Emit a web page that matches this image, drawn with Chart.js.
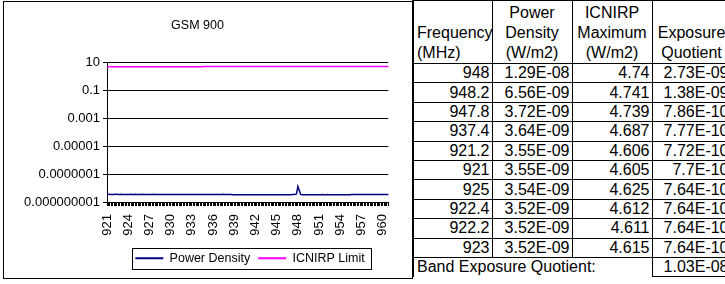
<!DOCTYPE html>
<html>
<head>
<meta charset="utf-8">
<title>GSM 900</title>
<script src="https://cdn.jsdelivr.net/npm/chart.js@4.4.1/dist/chart.umd.min.js"></script>
<style>
  body { margin: 0; background: #fff; }
  #page { position: relative; width: 725px; height: 284px; overflow: hidden; font-family: "Liberation Sans", Arial, sans-serif; }
  #chartBox { position: absolute; left: 3px; top: 1px; width: 410px; height: 278px; box-sizing: border-box; border: 1px solid #000; }
  #chartWrap { position: absolute; left: 0; top: 0; width: 412px; height: 284px; }
  #tbl { position: absolute; left: 412px; top: 0; width: 318px; border-collapse: collapse; table-layout: fixed; font-size: 16px; color: #000; }
  #tbl td { border: 1px solid #000; padding: 0 2px; white-space: nowrap; overflow: hidden; }
  #tbl tr.hd td { height: 62px; line-height: 20px; vertical-align: bottom; text-align: center; }
  #tbl tr.hd td.first { text-align: left; padding-left: 3px; }
  #tbl tr.row td { height: 18.4px; line-height: 18px; text-align: right; padding: 0 2px; }
  #tbl td.edge { border-left: 2px solid #000; }
  #tbl tr.row td.band { text-align: left; border-bottom: none; padding-left: 3px; }
</style>
</head>
<body>
<div id="page">
  <div id="chartBox"></div>
  <div id="chartWrap"><canvas id="gsmChart"></canvas></div>
  <table id="tbl">
    <colgroup><col style="width:79px"><col style="width:80px"><col style="width:80px"><col style="width:79px"></colgroup>
    <tbody id="tblBody">
      <tr class="hd">
        <td class="first edge">Frequency<br>(MHz)</td>
        <td>Power<br>Density<br>(W/m2)</td>
        <td>ICNIRP<br>Maximum<br>(W/m2)</td>
        <td>Exposure<br>Quotient</td>
      </tr>
    </tbody>
  </table>
</div>
<script>
// measured frequencies, 0.2 MHz steps
const frequencies = [
  921, 921.2, 921.4, 921.6, 921.8, 922, 922.2, 922.4, 922.6, 922.8,
  923, 923.2, 923.4, 923.6, 923.8, 924, 924.2, 924.4, 924.6, 924.8,
  925, 925.2, 925.4, 925.6, 925.8, 926, 926.2, 926.4, 926.6, 926.8,
  927, 927.2, 927.4, 927.6, 927.8, 928, 928.2, 928.4, 928.6, 928.8,
  929, 929.2, 929.4, 929.6, 929.8, 930, 930.2, 930.4, 930.6, 930.8,
  931, 931.2, 931.4, 931.6, 931.8, 932, 932.2, 932.4, 932.6, 932.8,
  933, 933.2, 933.4, 933.6, 933.8, 934, 934.2, 934.4, 934.6, 934.8,
  935, 935.2, 935.4, 935.6, 935.8, 936, 936.2, 936.4, 936.6, 936.8,
  937, 937.2, 937.4, 937.6, 937.8, 938, 938.2, 938.4, 938.6, 938.8,
  939, 939.2, 939.4, 939.6, 939.8, 940, 940.2, 940.4, 940.6, 940.8,
  941, 941.2, 941.4, 941.6, 941.8, 942, 942.2, 942.4, 942.6, 942.8,
  943, 943.2, 943.4, 943.6, 943.8, 944, 944.2, 944.4, 944.6, 944.8,
  945, 945.2, 945.4, 945.6, 945.8, 946, 946.2, 946.4, 946.6, 946.8,
  947, 947.2, 947.4, 947.6, 947.8, 948, 948.2, 948.4, 948.6, 948.8,
  949, 949.2, 949.4, 949.6, 949.8, 950, 950.2, 950.4, 950.6, 950.8,
  951, 951.2, 951.4, 951.6, 951.8, 952, 952.2, 952.4, 952.6, 952.8,
  953, 953.2, 953.4, 953.6, 953.8, 954, 954.2, 954.4, 954.6, 954.8,
  955, 955.2, 955.4, 955.6, 955.8, 956, 956.2, 956.4, 956.6, 956.8,
  957, 957.2, 957.4, 957.6, 957.8, 958, 958.2, 958.4, 958.6, 958.8,
  959, 959.2, 959.4, 959.6, 959.8, 960, 960.2, 960.4, 960.6, 960.8
];

// W/m2
const powerDensity = [
  3.55e-9, 3.55e-9, 3.49e-9, 3.47e-9, 3.50e-9, 3.48e-9, 3.52e-9, 3.52e-9, 3.46e-9, 3.49e-9, 3.52e-9, 3.47e-9, 3.45e-9, 3.50e-9, 3.48e-9,
  3.46e-9, 3.49e-9, 3.51e-9, 3.47e-9, 3.44e-9, 3.54e-9, 3.50e-9, 3.47e-9, 3.45e-9, 3.49e-9, 3.51e-9, 3.46e-9, 3.44e-9, 3.48e-9, 3.50e-9,
  3.47e-9, 3.45e-9, 3.49e-9, 3.51e-9, 3.46e-9, 3.43e-9, 3.48e-9, 3.50e-9, 3.45e-9, 3.47e-9, 3.49e-9, 3.44e-9, 3.46e-9, 3.48e-9, 3.43e-9,
  3.41e-9, 3.43e-9, 3.40e-9, 3.44e-9, 3.42e-9, 3.39e-9, 3.43e-9, 3.41e-9, 3.44e-9, 3.40e-9, 3.42e-9, 3.45e-9, 3.41e-9, 3.39e-9, 3.43e-9,
  3.42e-9, 3.40e-9, 3.44e-9, 3.41e-9, 3.43e-9, 3.39e-9, 3.42e-9, 3.45e-9, 3.40e-9, 3.43e-9, 3.41e-9, 3.44e-9, 3.42e-9, 3.40e-9, 3.43e-9,
  3.41e-9, 3.44e-9, 3.42e-9, 3.45e-9, 3.43e-9, 3.47e-9, 3.50e-9, 3.64e-9, 3.50e-9, 3.44e-9, 3.41e-9, 3.43e-9, 3.40e-9, 3.38e-9, 3.35e-9,
  3.33e-9, 3.30e-9, 3.32e-9, 3.29e-9, 3.31e-9, 3.34e-9, 3.30e-9, 3.28e-9, 3.32e-9, 3.30e-9, 3.33e-9, 3.29e-9, 3.31e-9, 3.35e-9, 3.30e-9,
  3.28e-9, 3.32e-9, 3.30e-9, 3.34e-9, 3.31e-9, 3.29e-9, 3.33e-9, 3.30e-9, 3.36e-9, 3.32e-9, 3.29e-9, 3.31e-9, 3.34e-9, 3.30e-9, 3.32e-9,
  3.29e-9, 3.33e-9, 3.31e-9, 3.35e-9, 3.30e-9, 3.32e-9, 3.29e-9, 3.34e-9, 3.31e-9, 3.33e-9, 3.36e-9, 3.38e-9, 3.42e-9, 3.51e-9, 3.72e-9,
  1.29e-8, 6.56e-9, 3.48e-9, 3.36e-9, 3.31e-9, 3.29e-9, 3.32e-9, 3.30e-9, 3.34e-9, 3.31e-9, 3.28e-9, 3.33e-9, 3.30e-9, 3.35e-9, 3.31e-9,
  3.29e-9, 3.33e-9, 3.37e-9, 3.32e-9, 3.30e-9, 3.34e-9, 3.38e-9, 3.31e-9, 3.29e-9, 3.35e-9, 3.32e-9, 3.36e-9, 3.30e-9, 3.33e-9, 3.31e-9,
  3.35e-9, 3.32e-9, 3.29e-9, 3.34e-9, 3.31e-9, 3.36e-9, 3.33e-9, 3.30e-9, 3.38e-9, 3.41e-9, 3.43e-9, 3.40e-9, 3.44e-9, 3.42e-9, 3.45e-9,
  3.41e-9, 3.44e-9, 3.46e-9, 3.42e-9, 3.45e-9, 3.43e-9, 3.47e-9, 3.44e-9, 3.42e-9, 3.46e-9, 3.43e-9, 3.45e-9, 3.41e-9, 3.44e-9, 3.47e-9,
  3.43e-9, 3.46e-9, 3.42e-9, 3.45e-9, 3.44e-9
];

// ICNIRP reference level, W/m2
const icnirpLimit = [
  4.605, 4.606, 4.607, 4.608, 4.609, 4.610, 4.611, 4.612, 4.613, 4.614,
  4.615, 4.616, 4.617, 4.618, 4.619, 4.620, 4.621, 4.622, 4.623, 4.624,
  4.625, 4.626, 4.627, 4.628, 4.629, 4.630, 4.631, 4.632, 4.633, 4.634,
  4.635, 4.636, 4.637, 4.638, 4.639, 4.640, 4.641, 4.642, 4.643, 4.644,
  4.645, 4.646, 4.647, 4.648, 4.649, 4.650, 4.651, 4.652, 4.653, 4.654,
  4.655, 4.656, 4.657, 4.658, 4.659, 4.660, 4.661, 4.662, 4.663, 4.664,
  4.665, 4.666, 4.667, 4.668, 4.669, 4.670, 4.671, 4.672, 4.673, 4.674,
  4.675, 4.676, 4.677, 4.678, 4.679, 4.680, 4.681, 4.682, 4.683, 4.684,
  4.685, 4.686, 4.687, 4.688, 4.689, 4.690, 4.691, 4.692, 4.693, 4.694,
  4.695, 4.696, 4.697, 4.698, 4.699, 4.700, 4.701, 4.702, 4.703, 4.704,
  4.705, 4.706, 4.707, 4.708, 4.709, 4.710, 4.711, 4.712, 4.713, 4.714,
  4.715, 4.716, 4.717, 4.718, 4.719, 4.720, 4.721, 4.722, 4.723, 4.724,
  4.725, 4.726, 4.727, 4.728, 4.729, 4.730, 4.731, 4.732, 4.733, 4.734,
  4.735, 4.736, 4.737, 4.738, 4.739, 4.740, 4.741, 4.742, 4.743, 4.744,
  4.745, 4.746, 4.747, 4.748, 4.749, 4.750, 4.751, 4.752, 4.753, 4.754,
  4.755, 4.756, 4.757, 4.758, 4.759, 4.760, 4.761, 4.762, 4.763, 4.764,
  4.765, 4.766, 4.767, 4.768, 4.769, 4.770, 4.771, 4.772, 4.773, 4.774,
  4.775, 4.776, 4.777, 4.778, 4.779, 4.780, 4.781, 4.782, 4.783, 4.784,
  4.785, 4.786, 4.787, 4.788, 4.789, 4.790, 4.791, 4.792, 4.793, 4.794,
  4.795, 4.796, 4.797, 4.798, 4.799, 4.800, 4.801, 4.802, 4.803, 4.804
];

const seriesNames = ['Power Density', 'ICNIRP Limit'];
const seriesColors = ['#000080', '#FF00FF'];

const xTickLabels = ['921', '924', '927', '930', '933', '936', '939', '942', '945', '948', '951', '954', '957', '960'];
const yTickValues = [1e-9, 1e-7, 1e-5, 1e-3, 0.1, 10];
const yTickLabels = ['0.000000001', '0.0000001', '0.00001', '0.001', '0.1', '10'];

// table on the right (top ten exposure quotients)
const tableFreq  = ['948', '948.2', '947.8', '937.4', '921.2', '921', '925', '922.4', '922.2', '923'];
const tablePower = ['1.29E-08', '6.56E-09', '3.72E-09', '3.64E-09', '3.55E-09', '3.55E-09', '3.54E-09', '3.52E-09', '3.52E-09', '3.52E-09'];
const tableLimit = ['4.74', '4.741', '4.739', '4.687', '4.606', '4.605', '4.625', '4.612', '4.611', '4.615'];
const tableQuot  = ['2.73E-09', '1.38E-09', '7.86E-10', '7.77E-10', '7.72E-10', '7.7E-10', '7.64E-10', '7.64E-10', '7.64E-10', '7.64E-10'];
const bandQuotient = '1.03E-08';

let body = document.getElementById('tblBody');
for (let ii = 0; ii < tableFreq.length; ii++) {
  let tr = document.createElement('tr');
  tr.className = 'row';
  tr.innerHTML = '<td class="edge">' + tableFreq[ii] + '</td><td>' + tablePower[ii] + '</td><td>' +
                 tableLimit[ii] + '</td><td>' + tableQuot[ii] + '</td>';
  body.appendChild(tr);
}
let band = document.createElement('tr');
band.className = 'row';
band.innerHTML = '<td class="edge band" colspan="3">Band Exposure Quotient:</td><td>' + bandQuotient + '</td>';
body.appendChild(band);

Chart.defaults.font.family = '"Liberation Sans", Arial, sans-serif';
Chart.defaults.color = '#000';

// moves the legend under the plot and draws the frame round it
const legendFrame = {
  id: 'legendFrame',
  afterLayout(chart) {
    const lg = chart.legend;
    const dx = 250 - (lg.left + lg.right) / 2;
    lg.left += dx;
    lg.right += dx;
  },
  afterDraw(chart) {
    const hb = chart.legend.legendHitBoxes;
    if (!hb || !hb.length) return;
    const last = hb[hb.length - 1];
    const x0 = Math.round(hb[0].left - 3) + 0.5;
    const x1 = Math.round(last.left + last.width + 6) + 0.5;
    const yc = hb[0].top + hb[0].height / 2;
    const ctx = chart.ctx;
    ctx.save();
    ctx.strokeStyle = '#000';
    ctx.lineWidth = 1;
    ctx.strokeRect(x0, Math.round(yc - 10.5) + 0.5, x1 - x0, 21);
    ctx.restore();
  }
};

new Chart(document.getElementById('gsmChart'), {
  type: 'line',
  data: {
    labels: frequencies,
    datasets: [
      { label: seriesNames[0], data: powerDensity, borderColor: seriesColors[0], backgroundColor: seriesColors[0],
        borderWidth: 1.5, pointRadius: 0, fill: false, tension: 0 },
      { label: seriesNames[1], data: icnirpLimit, borderColor: seriesColors[1], backgroundColor: seriesColors[1],
        borderWidth: 1.5, pointRadius: 0, fill: false, tension: 0 }
    ]
  },
  options: {
    responsive: true,
    maintainAspectRatio: false,
    animation: false,
    events: [],
    layout: { padding: { left: 0, right: 17, top: 0, bottom: 9.5 } },
    plugins: {
      title: {
        display: true,
        text: 'GSM 900',
        color: '#000',
        font: { size: 12.5, weight: 'normal' },
        padding: { top: 18, bottom: 29 }
      },
      legend: {
        position: 'bottom',
        labels: {
          boxWidth: 28,
          boxHeight: 2,
          padding: 8,
          color: '#000',
          font: { size: 12.5 },
          generateLabels: chart => chart.data.datasets.map((ds, i) => ({
            text: ds.label, fillStyle: ds.borderColor, strokeStyle: ds.borderColor,
            lineWidth: 0, hidden: false, datasetIndex: i
          }))
        }
      },
      tooltip: { enabled: false }
    },
    scales: {
      x: {
        type: 'category',
        offset: false,
        afterFit: s => { s.height = 42; },
        grid: { display: true, drawOnChartArea: false, drawTicks: true, tickLength: 4, color: '#000', lineWidth: 1 },
        border: { display: true, color: '#000', width: 1 },
        ticks: {
          autoSkip: false,
          minRotation: 90,
          maxRotation: 90,
          padding: 8,
          color: '#000',
          font: { size: 13 },
          callback: function (v) {
            let s = String(this.getLabelForValue(v));
            return xTickLabels.includes(s) ? s : '';
          }
        }
      },
      y: {
        type: 'logarithmic',
        min: 1e-9,
        max: 10,
        afterBuildTicks: s => { s.ticks = yTickValues.map(v => ({ value: v })); },
        afterFit: s => { s.width = 107; },
        grid: { color: '#000', lineWidth: 1, tickLength: 4 },
        border: { display: true, color: '#000', width: 1 },
        ticks: {
          padding: 3,
          color: '#000',
          font: { size: 13 },
          callback: v => {
            let k = yTickValues.indexOf(v);
            return k < 0 ? '' : yTickLabels[k];
          }
        }
      }
    }
  },
  plugins: [legendFrame]
});
</script>
</body>
</html>
